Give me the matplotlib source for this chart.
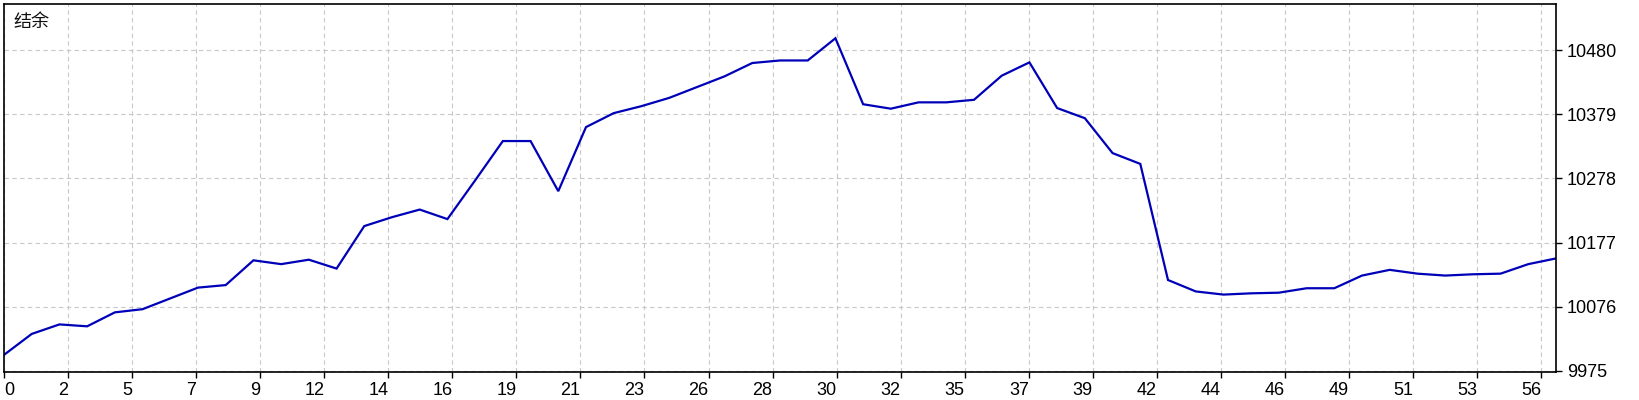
import numpy as np
import matplotlib
matplotlib.use("Agg")
import matplotlib.pyplot as plt

# balance per trade
balance = [10000, 10033, 10048, 10045, 10067, 10072, 10089, 10106, 10110, 10149,
           10143, 10150, 10136, 10203, 10217, 10229, 10214, 10275, 10337, 10337,
           10258, 10359, 10381, 10392, 10405, 10422, 10439, 10460, 10464, 10464,
           10499, 10395, 10388, 10398, 10398, 10402, 10440, 10461, 10389, 10373,
           10318, 10301, 10118, 10100, 10095, 10097, 10098, 10105, 10105, 10125,
           10134, 10128, 10125, 10127, 10128, 10143, 10152]
x_labels = ["0", "2", "5", "7", "9", "12", "14", "16", "19", "21", "23", "26", "28",
            "30", "32", "35", "37", "39", "42", "44", "46", "49", "51", "53", "56"]
y_ticks = [9975, 10076, 10177, 10278, 10379, 10480]
title = "结余"

plt.rcParams['font.family'] = ['Liberation Sans', 'DejaVu Sans']

W, H = 1640, 400
fig = plt.figure(figsize=(W / 100, H / 100), dpi=100)
ax = fig.add_axes([4 / W, 1 - 372 / H, (1556 - 4) / W, (372 - 4) / H])

x = np.arange(len(balance))
ax.plot(x, balance, color="#0000b8", lw=1.6, solid_joinstyle="miter")

ax.set_xlim(0, len(balance) - 1)
ax.set_ylim(9973, 10553)

# tick spacing on x is not an integer in the original
xstep = 2.311
xt = np.arange(len(x_labels)) * xstep
ax.set_xticks(xt)
ax.set_xticklabels(x_labels)
for i, lab in enumerate(ax.get_xticklabels()):
    lab.set_ha("left" if i == 0 else "right")

ax.set_yticks(y_ticks)
ax.yaxis.tick_right()

ax.tick_params(axis="both", direction="out", length=4, width=1, colors="black",
               labelsize=13)
ax.tick_params(axis="x", pad=3)
ax.tick_params(axis="y", pad=4)

ax.grid(True, color="#c8c8c8", linestyle=(0, (4, 3)), linewidth=0.8)
ax.set_axisbelow(True)
for sp in ax.spines.values():
    sp.set_linewidth(1.2)
    sp.set_color("black")

ax.text(0.006, 0.975, title, transform=ax.transAxes, ha="left", va="top",
        fontsize=13, family=['Noto Sans CJK SC', 'DejaVu Sans'], color="#101010")

fig.savefig("out.png", dpi=100, facecolor="white")
